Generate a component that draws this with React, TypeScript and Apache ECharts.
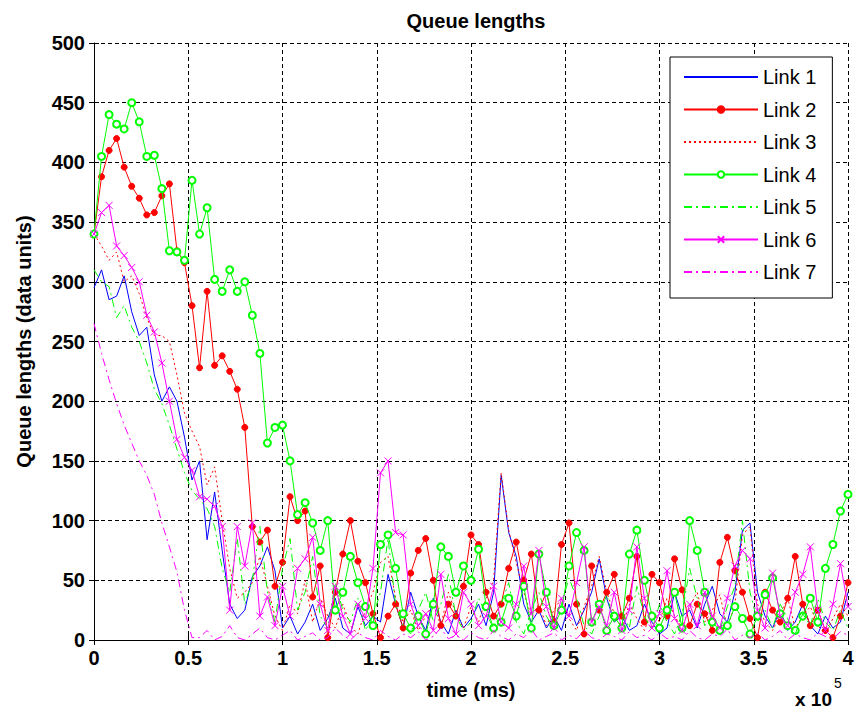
import React, { useEffect, useRef } from "react";
import * as echarts from "echarts";

// Sample spacing, in units of 10^5 ms (one sample every 4000 ms)
const SAMPLE_STEP = 0.04;

const xTickValues = [0, 0.5, 1, 1.5, 2, 2.5, 3, 3.5, 4];
const yTickValues = [0, 50, 100, 150, 200, 250, 300, 350, 400, 450, 500];

const linkNames = ["Link 1", "Link 2", "Link 3", "Link 4", "Link 5", "Link 6", "Link 7"];

const link1 = [
  295, 310, 285, 288, 305, 275, 255, 262, 222, 200,
  212, 200, 170, 134, 150, 84, 124, 75, 30, 18,
  25, 53, 62, 78, 58, 10, 20, 5, 15, 30,
  8, 18, 35, 10, 5, 28, 12, 20, 15, 55,
  30, 10, 40, 20, 8, 35, 15, 5, 25, 10,
  18, 30, 12, 40, 138, 90, 70, 30, 15, 25,
  10, 20, 8, 30, 12, 25, 40, 68, 35, 15,
  20, 8, 12, 30, 15, 5, 10, 40, 20, 25,
  10, 30, 45, 22, 15, 40, 92, 98, 40, 20,
  10, 25, 8, 15, 30, 12, 5, 20, 10, 15,
  40,
];

const link2 = [
  340, 388, 410, 420, 396, 380, 370, 356, 358, 372,
  382, 326, 316, 280, 228, 292, 230, 238, 225, 210,
  178, 95, 82, 92, 45, 65, 120, 100, 108, 36,
  62, 2, 40, 72, 100, 66, 48, 22, 2, 20,
  30, 10, 56, 75, 85, 50, 12, 30, 20, 45,
  88, 80, 40, 20, 30, 60, 82, 50, 72, 25,
  40, 15, 80, 98, 30, 5, 62, 25, 40, 55,
  20, 35, 70, 15, 55, 48, 20, 68, 42, 12,
  30, 22, 8, 65, 86, 58, 40, 18, 2, 40,
  25, 15, 35, 70, 30, 12, 25, 8, 2, 20,
  48,
];

const link3 = [
  340, 330, 318, 325, 300, 305, 290, 270, 255, 255,
  250, 222, 190, 175, 162, 130, 145, 100, 60, 35,
  40, 48, 70, 45, 20, 8, 30, 22, 50, 15,
  35, 20, 10, 30, 12, 5, 25, 40, 65, 70,
  35, 15, 25, 8, 20, 30, 12, 40, 22, 10,
  28, 15, 35, 50, 140, 92, 65, 40, 20, 30,
  12, 25, 35, 18, 8, 28, 45, 70, 40, 22,
  10, 30, 18, 8, 25, 15, 35, 20, 10, 28,
  40, 15, 25, 38, 10, 30, 88, 95, 30, 15,
  8, 22, 35, 10, 20, 28, 12, 5, 18, 30,
  20,
];

const link4 = [
  340, 405, 440, 432, 428, 450, 434, 405, 406, 378,
  326, 325, 318, 385, 340, 362, 302, 292, 310, 292,
  300, 272, 240, 165, 178, 180, 150, 105, 115, 98,
  75, 100, 25, 40, 70, 48, 28, 12, 80, 88,
  60, 22, 10, 20, 5, 30, 78, 70, 40, 62,
  50, 76, 28, 10, 15, 35, 20, 45, 10, 72,
  40, 12, 25, 62, 90, 75, 15, 30, 8, 20,
  10, 72, 92, 50, 20, 10, 25, 40, 10, 100,
  75, 40, 15, 8, 12, 28, 18, 5, 20, 38,
  52, 22, 12, 8, 20, 35, 15, 60, 80, 108,
  122,
];

const link5 = [
  310, 300, 296, 270, 280, 262, 250, 232, 210, 198,
  180, 160, 140, 125, 118, 110, 95, 60, 40, 85,
  30, 50, 95, 40, 15, 60, 85, 25, 40, 70,
  20, 10, 48, 25, 15, 35, 8, 20, 40, 85,
  30, 12, 5, 25, 40, 15, 30, 55, 20, 8,
  15, 35, 22, 10, 30, 48, 15, 5, 25, 40,
  20, 10, 30, 52, 35, 12, 5, 20, 38, 15,
  25, 10, 45, 20, 8, 30, 15, 5, 22, 60,
  35, 12, 20, 8, 28, 45, 100, 40, 15, 25,
  10, 30, 18, 5, 22, 12, 35, 15, 8, 25,
  10,
];

const link6 = [
  340, 358, 364, 330, 322, 312, 300, 272, 258, 232,
  200, 168, 153, 142, 120, 118, 112, 95, 25, 95,
  62, 98, 20, 36, 12, 45, 20, 60, 68, 86,
  30, 8, 45, 20, 5, 30, 18, 60, 140, 150,
  90, 88, 30, 12, 22, 8, 55, 18, 5, 40,
  30, 12, 20, 45, 15, 10, 30, 62, 22, 75,
  28, 10, 35, 20, 48, 78, 15, 28, 12, 40,
  8, 25, 78, 35, 10, 22, 58, 18, 8, 30,
  12, 40, 20, 10, 35, 62, 75, 68, 25, 10,
  56, 20, 12, 40, 55, 78, 25, 8, 30, 64,
  28,
];

const link7 = [
  265, 240, 218, 198, 180, 165, 150, 138, 122, 98,
  78, 57, 25, 2, 2, 8, 0, 3, 12, 2,
  0, 5, 10, 2, 0, 4, 8, 0, 3, 6,
  0, 2, 10, 4, 0, 6, 2, 0, 8, 3,
  0, 5, 2, 7, 0, 3, 10, 1, 4, 0,
  6, 2, 0, 8, 3, 0, 5, 2, 9, 0,
  3, 6, 0, 4, 1, 8, 2, 0, 5, 3,
  0, 7, 2, 4, 0, 6, 1, 3, 0, 8,
  2, 0, 5, 3, 9, 0, 4, 2, 6, 0,
  3, 8, 0, 5, 2, 0, 6, 3, 1, 7,
  4,
];

const FONT = "'Liberation Sans', Arial, Helvetica, sans-serif";
const X_MARK = "path://M0,0L10,10M10,0L0,10";
const DASH_DOT = [8, 4, 2, 4];
const CLEAR = "rgba(0,0,0,0)";

const seriesStyles = [
  { data: link1, color: "#0000ff", type: "solid", symbol: "none", size: 0 },
  { data: link2, color: "#ff0000", type: "solid", symbol: "circle", size: 6 },
  { data: link3, color: "#ff0000", type: [2, 3], symbol: "none", size: 0 },
  { data: link4, color: "#00ff00", type: "solid", symbol: "emptyCircle", size: 7 },
  { data: link5, color: "#00ff00", type: DASH_DOT, symbol: "none", size: 0 },
  { data: link6, color: "#ff00ff", type: "solid", symbol: X_MARK, size: 7 },
  { data: link7, color: "#ff00ff", type: DASH_DOT, symbol: "none", size: 0 },
];

export default function App() {
  const ref = useRef<HTMLDivElement>(null);

  useEffect(() => {
    document.body.style.margin = "0";
    if (!ref.current) return;
    const chart = echarts.init(ref.current, undefined, { renderer: "svg" });

    const series = seriesStyles.map((s, k) => ({
      name: linkNames[k],
      type: "line",
      data: s.data.map((v, i) => [i * SAMPLE_STEP, v]),
      symbol: s.symbol,
      symbolSize: s.size,
      showSymbol: s.symbol !== "none",
      lineStyle: { color: s.color, width: 1, type: s.type },
      itemStyle: {
        color: s.symbol === X_MARK ? CLEAR : s.color,
        borderColor: s.color,
        borderWidth: 1,
      },
      emphasis: { disabled: true },
      z: 2 + k,
    }));

    const legendData = seriesStyles.map((s, k) =>
      s.symbol === "none"
        ? { name: linkNames[k], itemStyle: { color: CLEAR, borderColor: CLEAR, opacity: 0 } }
        : { name: linkNames[k] }
    );

    const gridLine = { show: true, lineStyle: { color: "#000", type: [4, 3], width: 1 } };
    const tickLabel = { fontFamily: FONT, fontSize: 20, fontWeight: "bold", color: "#000" };

    chart.setOption({
      animation: false,
      backgroundColor: "#fff",
      title: {
        text: "Queue lengths",
        left: 471,
        top: 6,
        textAlign: "center",
        textStyle: { fontFamily: FONT, fontSize: 20, fontWeight: "bold", color: "#000" },
      },
      grid: { left: 94, right: 14, top: 43, bottom: 71 },
      legend: {
        data: legendData,
        orient: "vertical",
        left: 670,
        top: 57,
        itemWidth: 74,
        itemHeight: 8,
        itemGap: 12.5,
        padding: [10, 16, 16, 13],
        backgroundColor: "#fff",
        borderColor: "#000",
        borderWidth: 1,
        borderRadius: 0,
        textStyle: { fontFamily: FONT, fontSize: 20, color: "#000" },
      },
      xAxis: [
        {
          type: "value",
          min: xTickValues[0],
          max: xTickValues[xTickValues.length - 1],
          interval: 0.5,
          name: "time (ms)",
          nameLocation: "middle",
          nameGap: 40,
          nameTextStyle: { fontFamily: FONT, fontSize: 20, fontWeight: "bold", color: "#000" },
          axisLine: { show: true, onZero: false, lineStyle: { color: "#000", width: 1 } },
          axisTick: { show: true, inside: true, length: 5, lineStyle: { color: "#000" } },
          axisLabel: { ...tickLabel, margin: 8 },
          splitLine: gridLine,
        },
        {
          type: "value",
          position: "top",
          min: xTickValues[0],
          max: xTickValues[xTickValues.length - 1],
          interval: 0.5,
          axisLine: { show: false },
          axisTick: { show: true, inside: true, length: 5, lineStyle: { color: "#000" } },
          axisLabel: { show: false },
          splitLine: { show: false },
        },
      ],
      yAxis: [
        {
          type: "value",
          min: yTickValues[0],
          max: yTickValues[yTickValues.length - 1],
          interval: 50,
          name: "Queue lengths (data units)",
          nameLocation: "middle",
          nameGap: 60,
          nameTextStyle: { fontFamily: FONT, fontSize: 20, fontWeight: "bold", color: "#000" },
          axisLine: { show: true, onZero: false, lineStyle: { color: "#000", width: 1 } },
          axisTick: { show: true, inside: true, length: 5, lineStyle: { color: "#000" } },
          axisLabel: { ...tickLabel, margin: 9 },
          splitLine: gridLine,
        },
        {
          type: "value",
          position: "right",
          min: yTickValues[0],
          max: yTickValues[yTickValues.length - 1],
          interval: 50,
          axisLine: { show: false },
          axisTick: { show: true, inside: true, length: 5, lineStyle: { color: "#000" } },
          axisLabel: { show: false },
          splitLine: { show: false },
        },
      ],
      graphic: [
        {
          type: "text",
          left: 795,
          top: 690,
          style: { text: "x 10", fontFamily: FONT, fontSize: 19, fontWeight: "bold", fill: "#000" },
        },
        {
          type: "text",
          left: 834,
          top: 676,
          style: { text: "5", fontFamily: FONT, fontSize: 14, fill: "#000" },
        },
      ],
      series,
    });

    return () => chart.dispose();
  }, []);

  return <div ref={ref} style={{ width: 862, height: 711 }} />;
}
